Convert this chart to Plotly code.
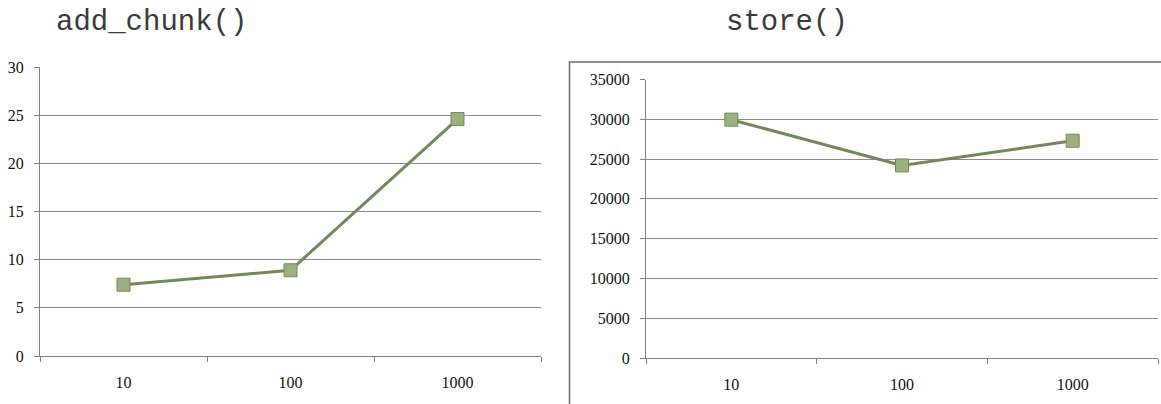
import plotly.graph_objects as go

W, H = 1161, 404

# Chunk counts shared by both charts
categories = ["10", "100", "1000"]

# Timings for add_chunk()
add_chunk_values = [7.4, 8.9, 24.6]
add_chunk_ticks = [0, 5, 10, 15, 20, 25, 30]

# Timings for store()
store_values = [29950, 24200, 27300]
store_ticks = [0, 5000, 10000, 15000, 20000, 25000, 30000, 35000]

LINE = "#72885a"
FILL = "#9bb17f"
GRID = "#8c8c8c"
AXIS = "#808080"
SERIF = "Liberation Serif"
MONO = "Liberation Mono"


def px(x):
    return x / W


def py(y):
    return 1 - y / H


fig = go.Figure()

for vals, xa, ya in [(add_chunk_values, "x", "y"), (store_values, "x2", "y2")]:
    fig.add_trace(go.Scatter(
        x=categories, y=vals, xaxis=xa, yaxis=ya,
        mode="lines+markers",
        line=dict(color=LINE, width=3),
        marker=dict(symbol="square", size=13, color=FILL,
                    line=dict(color=LINE, width=1)),
        showlegend=False, cliponaxis=False,
    ))

xcommon = dict(
    type="category", range=[-0.5, 2.5], showgrid=False,
    showline=True, linecolor=AXIS, linewidth=1,
    ticks="outside", tickson="boundaries", ticklen=5, tickcolor=AXIS,
    tickfont=dict(family=SERIF, size=16, color="#111"),
    ticklabelstandoff=12, zeroline=False, fixedrange=True, automargin=False,
)
ycommon = dict(
    showgrid=True, gridcolor=GRID, gridwidth=1,
    showline=True, linecolor=AXIS, linewidth=1,
    ticks="outside", ticklen=5, tickcolor=AXIS, tickformat="d",
    tickfont=dict(family=SERIF, size=16, color="#111"),
    ticklabelstandoff=7, zeroline=False, fixedrange=True, automargin=False,
)

fig.update_layout(
    width=W, height=H,
    margin=dict(l=0, r=0, t=0, b=0, autoexpand=False),
    paper_bgcolor="white", plot_bgcolor="white",
    xaxis=dict(xcommon, domain=[px(40), px(541)], anchor="y"),
    yaxis=dict(ycommon, domain=[py(356), py(67)], range=[0, 30],
               tickvals=add_chunk_ticks, anchor="x"),
    xaxis2=dict(xcommon, domain=[px(646), px(1158)], anchor="y2"),
    yaxis2=dict(ycommon, domain=[py(358), py(79.5)], range=[0, 35000],
                tickvals=store_ticks, anchor="x2"),
    annotations=[
        dict(text="add_chunk()", x=px(151), y=py(22), xref="paper", yref="paper",
             xanchor="center", yanchor="middle", showarrow=False,
             font=dict(family=MONO, size=29, color="#3a3a3a")),
        dict(text="store()", x=px(787), y=py(22), xref="paper", yref="paper",
             xanchor="center", yanchor="middle", showarrow=False,
             font=dict(family=MONO, size=29, color="#3a3a3a")),
    ],
    shapes=[
        dict(type="rect", xref="paper", yref="paper",
             x0=px(569.5), x1=1.05, y0=-0.05, y1=py(62),
             line=dict(color="#6e6e6e", width=1.5)),
    ],
)

fig.write_html("out.html")
